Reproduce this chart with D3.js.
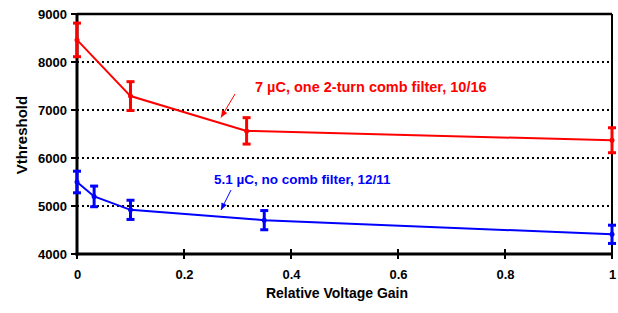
<!DOCTYPE html>
<html>
<head>
<meta charset="utf-8">
<script src="https://cdn.jsdelivr.net/npm/d3@7"></script>
<style>
  html, body { margin: 0; padding: 0; background: #fff; }
  svg { display: block; }
  text { font-family: "Liberation Sans", Arial, sans-serif; font-weight: bold; }
</style>
</head>
<body>
<svg id="chart" width="618" height="313"></svg>
<script>
// Data
const redX = [0, 0.1, 0.317, 1];
const redY = [8460, 7290, 6565, 6370];
const redErr = [350, 300, 275, 260];

const blueX = [0, 0.032, 0.1, 0.35, 1];
const blueY = [5500, 5200, 4920, 4705, 4410];
const blueErr = [225, 215, 200, 200, 190];

const xTicks = [0, 0.2, 0.4, 0.6, 0.8, 1];
const xTickLabels = ["0", "0.2", "0.4", "0.6", "0.8", "1"];
const yTicks = [4000, 5000, 6000, 7000, 8000, 9000];
const gridVals = [5000, 6000, 7000, 8000];

const redLabel = "7 \u00B5C, one 2-turn comb filter, 10/16";
const blueLabel = "5.1 \u00B5C, no comb filter, 12/11";
const xTitle = "Relative Voltage Gain";
const yTitle = "Vthreshold";

const svg = d3.select("#chart");
const L = 77, R = 612, T = 14, B = 254;

const x = d3.scaleLinear().domain([0, 1]).range([L, R]);
const y = d3.scaleLinear().domain([4000, 9000]).range([B, T]);

// grid
svg.append("g").selectAll("line").data(gridVals).join("line")
  .attr("x1", L).attr("x2", R)
  .attr("y1", d => y(d)).attr("y2", d => y(d))
  .attr("stroke", "#000").attr("stroke-width", 2)
  .attr("stroke-dasharray", "2,3");

// frame top/right
svg.append("line").attr("x1", L).attr("x2", R).attr("y1", T).attr("y2", T)
  .attr("stroke", "#000").attr("stroke-width", 2.5);
svg.append("line").attr("x1", R).attr("x2", R).attr("y1", T).attr("y2", B)
  .attr("stroke", "#000").attr("stroke-width", 2);

// x axis
const xAxis = d3.axisBottom(x).tickValues(xTicks)
  .tickFormat((d, i) => xTickLabels[i]).tickSize(0).tickPadding(16);
const gx = svg.append("g").attr("transform", `translate(0,${B})`).call(xAxis);
gx.select(".domain").remove();
gx.selectAll("text").attr("font-size", 13).attr("fill", "#000")
  .style("font-family", "Liberation Sans, Arial, sans-serif").style("font-weight", "bold");
svg.append("g").selectAll("line").data(xTicks).join("line")
  .attr("x1", d => x(d)).attr("x2", d => x(d))
  .attr("y1", B - 5).attr("y2", B + 5)
  .attr("stroke", "#000").attr("stroke-width", 2);

// y axis
const yAxis = d3.axisLeft(y).tickValues(yTicks).tickSize(0).tickPadding(10)
  .tickFormat(d3.format("d"));
const gy = svg.append("g").attr("transform", `translate(${L},0)`).call(yAxis);
gy.select(".domain").remove();
gy.selectAll("text").attr("font-size", 13).attr("fill", "#000")
  .style("font-family", "Liberation Sans, Arial, sans-serif").style("font-weight", "bold");
svg.append("g").selectAll("line").data(yTicks).join("line")
  .attr("x1", L - 6).attr("x2", L)
  .attr("y1", d => y(d)).attr("y2", d => y(d))
  .attr("stroke", "#000").attr("stroke-width", 2);

// main axis lines
svg.append("line").attr("x1", L).attr("x2", L).attr("y1", T - 1).attr("y2", B + 1.5)
  .attr("stroke", "#000").attr("stroke-width", 3);
svg.append("line").attr("x1", L - 1.5).attr("x2", R + 1).attr("y1", B).attr("y2", B)
  .attr("stroke", "#000").attr("stroke-width", 3);

function drawSeries(xs, ys, es, color) {
  const pts = xs.map((d, i) => ({ x: d, y: ys[i], e: es[i] }));
  const line = d3.line().x(d => x(d.x)).y(d => y(d.y));
  svg.append("path").datum(pts).attr("d", line)
    .attr("fill", "none").attr("stroke", color).attr("stroke-width", 2);
  const g = svg.append("g").attr("stroke", color).attr("stroke-width", 3);
  g.selectAll("line.v").data(pts).join("line").attr("class", "v")
    .attr("x1", d => x(d.x)).attr("x2", d => x(d.x))
    .attr("y1", d => y(d.y + d.e)).attr("y2", d => y(d.y - d.e));
  g.selectAll("line.t").data(pts).join("line").attr("class", "t")
    .attr("x1", d => x(d.x) - 4).attr("x2", d => x(d.x) + 4)
    .attr("y1", d => y(d.y + d.e)).attr("y2", d => y(d.y + d.e));
  g.selectAll("line.b").data(pts).join("line").attr("class", "b")
    .attr("x1", d => x(d.x) - 4).attr("x2", d => x(d.x) + 4)
    .attr("y1", d => y(d.y - d.e)).attr("y2", d => y(d.y - d.e));
  svg.append("g").selectAll("circle").data(pts).join("circle")
    .attr("cx", d => x(d.x)).attr("cy", d => y(d.y)).attr("r", 2.5)
    .attr("fill", color);
}
drawSeries(redX, redY, redErr, "#ff0000");
drawSeries(blueX, blueY, blueErr, "#0000ff");

// annotations
svg.append("text").attr("x", 255).attr("y", 91.5).attr("font-size", 14.5)
  .attr("fill", "#ff0000").text(redLabel);
svg.append("text").attr("x", 214).attr("y", 183.5).attr("font-size", 13.5)
  .attr("fill", "#0000ff").text(blueLabel);

function arrow(x1, y1, x2, y2, color) {
  svg.append("line").attr("x1", x1).attr("y1", y1).attr("x2", x2).attr("y2", y2)
    .attr("stroke", color).attr("stroke-width", 1);
  const ang = Math.atan2(y2 - y1, x2 - x1);
  const len = 7, w = 3;
  const bx = x2 - len * Math.cos(ang), by = y2 - len * Math.sin(ang);
  const px = -Math.sin(ang) * w, py = Math.cos(ang) * w;
  svg.append("path")
    .attr("d", `M${x2},${y2}L${bx + px},${by + py}L${bx - px},${by - py}Z`)
    .attr("fill", color);
}
arrow(235, 94, 221, 117.5, "#ff0000");
arrow(231, 190, 221, 210, "#0000ff");

// titles
svg.append("text").attr("x", 337).attr("y", 297.5).attr("text-anchor", "middle")
  .attr("font-size", 14).attr("fill", "#000").text(xTitle);
svg.append("text").attr("transform", "translate(26.5,135) rotate(-90)")
  .attr("text-anchor", "middle").attr("font-size", 15).attr("fill", "#000").text(yTitle);
</script>
</body>
</html>
